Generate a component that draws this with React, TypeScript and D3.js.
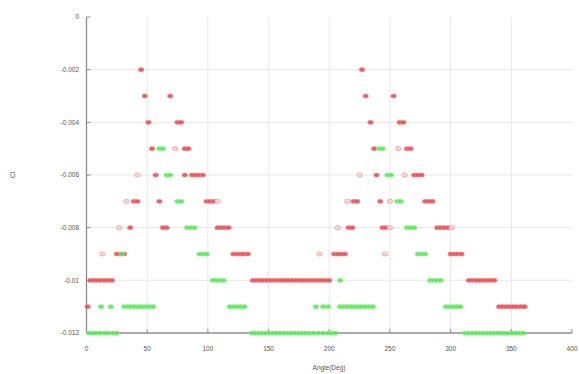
import React from "react";
import * as d3 from "d3";

// Cl levels, one row of points per level
const clLevels = [-0.002, -0.003, -0.004, -0.005, -0.006, -0.007, -0.008, -0.009, -0.01, -0.011, -0.012];

// angles (deg) of the solid red points, per level
const redAngles: number[][] = [
  [45, 227],
  [48, 69, 230, 253],
  [51, 75, 78, 234, 258, 261],
  [54, 81, 84, 237, 264, 267],
  [57, 81, 87, 90, 93, 96, 239, 270, 273, 276],
  [39, 42, 60, 99, 102, 105, 220, 223, 242, 279, 282, 285],
  [36, 63, 66, 108, 111, 114, 117, 216, 219, 244, 247, 289, 292, 295, 298],
  [25, 28, 31, 121, 124, 127, 130, 133, 204, 207, 210, 213, 300, 303, 306, 309],
  [3, 6, 9, 12, 15, 18, 21, 137, 140, 143, 146, 149, 152, 155, 158, 161, 164, 167, 170, 173, 176, 179, 182, 185, 188, 191, 194, 197, 200, 315, 318, 321, 324, 327, 330, 333, 336],
  [1, 340, 343, 346, 349, 352, 355, 358, 361],
  [],
];

// pale (hollow looking) red points
const paleAngles: number[][] = [
  [], [], [],
  [73, 257],
  [42, 225, 262],
  [33, 108, 215, 250],
  [27, 207, 250, 301],
  [13, 192, 246],
  [], [], [],
];

// green points
const greenAngles: number[][] = [
  [], [], [],
  [60, 63, 241, 244],
  [66, 69, 248, 251],
  [75, 78, 256, 259],
  [83, 86, 89, 264, 267, 270],
  [29, 93, 96, 99, 273, 276, 279],
  [104, 107, 110, 113, 209, 283, 286, 289, 292],
  [12, 20, 31, 34, 37, 40, 43, 46, 49, 52, 55, 118, 121, 124, 127, 130, 189, 195, 199, 209, 212, 215, 218, 221, 224, 227, 230, 233, 236, 296, 299, 302, 305, 308],
  [2, 5, 8, 11, 15, 18, 22, 25, 136, 139, 142, 145, 148, 151, 154, 157, 160, 163, 166, 169, 172, 175, 178, 181, 184, 187, 191, 195, 199, 202, 205, 312, 315, 318, 321, 324, 327, 330, 333, 336, 339, 342, 345, 348, 351, 354, 357, 360],
];

const xTicks = [0, 50, 100, 150, 200, 250, 300, 350, 400];
const yTicks = [0, -0.002, -0.004, -0.006, -0.008, -0.01, -0.012];

const W = 579, H = 374;

const toPoints = (rows: number[][]) =>
  rows.flatMap((angles, i) => angles.map(a => ({ a, cl: clLevels[i] })));

export default function App() {
  const x = d3.scaleLinear().domain([0, 400]).range([86.5, 572]);
  const y = d3.scaleLinear().domain([-0.012, 0]).range([333, 17]);
  const fmt = (v: number) => (v === 0 ? "0" : String(+v.toFixed(3)));

  const red = toPoints(redAngles);
  const pale = toPoints(paleAngles);
  const green = toPoints(greenAngles);

  const font = "Liberation Sans, Arial, sans-serif";

  return (
    <svg width={W} height={H} style={{ position: "absolute", left: 0, top: 0, background: "#fff" }}>
      {/* grid */}
      <g stroke="#e8e8e8" strokeWidth={1}>
        {xTicks.slice(1, -1).map(t => (
          <line key={t} x1={x(t)} x2={x(t)} y1={y(0)} y2={y(-0.012)} />
        ))}
        {yTicks.slice(1, -1).map(t => (
          <line key={t} x1={x(0)} x2={x(400)} y1={y(t)} y2={y(t)} />
        ))}
      </g>

      {/* axes */}
      <g stroke="#8c8c8c" strokeWidth={1.3}>
        <line x1={x(0)} x2={x(0)} y1={y(0)} y2={y(-0.012)} />
        <line x1={x(0)} x2={x(400)} y1={y(-0.012)} y2={y(-0.012)} />
        {yTicks.map(t => (
          <line key={t} x1={x(0)} x2={x(0) + 4} y1={y(t)} y2={y(t)} strokeWidth={1} />
        ))}
        {xTicks.map(t => (
          <line key={t} x1={x(t)} x2={x(t)} y1={y(-0.012)} y2={y(-0.012) - 4} strokeWidth={1} />
        ))}
      </g>

      {/* points */}
      <g>
        {red.map((p, i) => (
          <ellipse key={"r" + i} cx={x(p.a)} cy={y(p.cl)} rx={2.8} ry={2.1}
            fill="#e8434c" fillOpacity={0.85} stroke="#f09090" strokeWidth={0.6} />
        ))}
        {pale.map((p, i) => (
          <ellipse key={"p" + i} cx={x(p.a)} cy={y(p.cl)} rx={2.8} ry={2.1}
            fill="#f9d6d6" stroke="#eba2a2" strokeWidth={0.8} />
        ))}
        {green.map((p, i) => (
          <ellipse key={"g" + i} cx={x(p.a)} cy={y(p.cl)} rx={2.8} ry={2.1}
            fill="#4fe84f" fillOpacity={0.85} stroke="#9af29a" strokeWidth={0.6} />
        ))}
      </g>

      {/* tick labels */}
      <g fontFamily={font} fontSize={6.5} fill="#555">
        {yTicks.map(t => (
          <text key={t} x={79} y={y(t)} dy="0.35em" textAnchor="end">{fmt(t)}</text>
        ))}
        {xTicks.map(t => (
          <text key={t} x={x(t)} y={351} textAnchor="middle">{t}</text>
        ))}
      </g>

      {/* axis titles */}
      <text x={329} y={370} textAnchor="middle" fontFamily={font} fontSize={6.5} fill="#555">Angle(Deg)</text>
      <text transform="translate(15,175) rotate(-90)" textAnchor="middle" fontFamily={font} fontSize={6.5} fill="#555">Cl</text>
    </svg>
  );
}
